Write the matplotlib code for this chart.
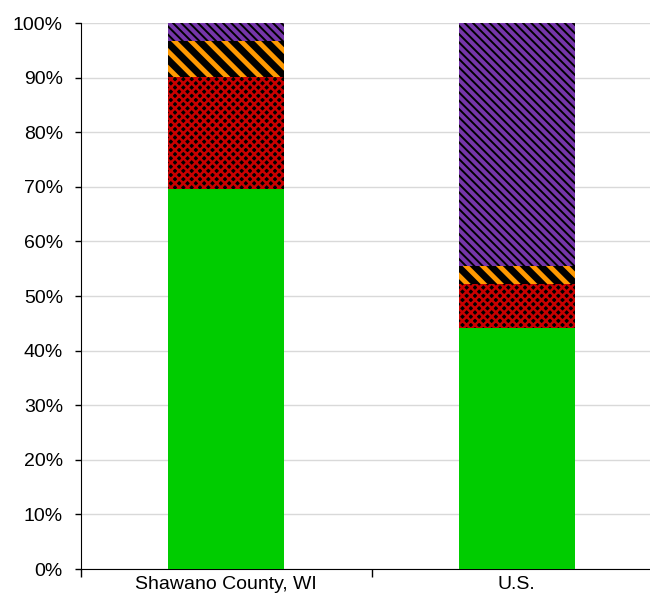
import matplotlib
matplotlib.use('Agg')
import matplotlib.pyplot as plt
import numpy as np

plt.rcParams['font.family'] = ['Liberation Sans', 'DejaVu Sans']

# Stacked shares (percent) per area, bottom to top
areas = ['Shawano County, WI', 'U.S.']
green = [69.6, 44.1]
red = [20.6, 8.1]
orange = [6.5, 3.3]
purple = [3.3, 44.5]

fig = plt.figure(figsize=(6.5, 5.99), dpi=100)
ax = fig.add_axes([0.1246, 0.05, 0.894, 0.9115])

x = np.arange(len(areas))
w = 0.4
bottom = np.zeros(len(areas))

ax.bar(x, green, w, bottom=bottom, color='#00CC00', linewidth=0, zorder=3)
bottom += green
with plt.rc_context({'hatch.linewidth': 1.8}):
    ax.bar(x, red, w, bottom=bottom, color='black', edgecolor='#C80000',
           hatch='xxxx', linewidth=0, zorder=3)
bottom += red
with plt.rc_context({'hatch.linewidth': 3.5}):
    ax.bar(x, orange, w, bottom=bottom, color='black', edgecolor='#FF9900',
           hatch='\\\\', linewidth=0, zorder=3)
bottom += orange
with plt.rc_context({'hatch.linewidth': 1.4}):
    ax.bar(x, purple, w, bottom=bottom, color='#7636AA', edgecolor='black',
           hatch='\\\\\\\\', linewidth=0, zorder=3)

ax.set_xlim(-0.5, 1.5)
ax.set_ylim(0, 100)
ax.set_yticks(np.arange(0, 101, 10))
ax.set_yticklabels([f'{v}%' for v in range(0, 101, 10)], fontsize=14)
ax.yaxis.grid(True, color='#D9D9D9', linewidth=1, zorder=0)

ax.set_xticks(x)
ax.set_xticklabels(areas, fontsize=14)
ax.tick_params(axis='x', which='major', length=0, pad=5)
ax.set_xticks([-0.5, 0.5], minor=True)
ax.tick_params(axis='x', which='minor', length=6, width=1)
ax.tick_params(axis='y', length=4, width=1, pad=9)

for s in ['top', 'right']:
    ax.spines[s].set_visible(False)
ax.spines['left'].set_color('black')
ax.spines['bottom'].set_color('black')

fig.savefig('out.png', dpi=100)
